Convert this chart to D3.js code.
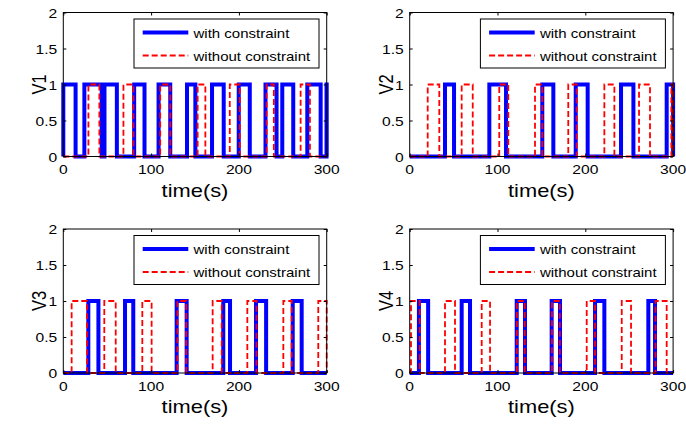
<!DOCTYPE html>
<html><head><meta charset="utf-8">
<script src="https://cdn.jsdelivr.net/npm/d3@7"></script>
<style>html,body{margin:0;padding:0;background:#fff;}svg{display:block;}</style>
</head><body>
<script>
const xTicks = [0, 100, 200, 300];
const yTicks = [0, 0.5, 1, 1.5, 2];
const xDomain = [0, 300];
const yDomain = [0, 2];
const panelNames = ["V1", "V2", "V3", "V4"];
const xLabel = "time(s)";
const legendLabels = ["with constraint", "without constraint"];
// pulses (start, end) in seconds where the signal is 1
const v1With = [[0,14],[24,43.8],[46.9,61],[80.7,92.5],[108.5,121.8],[140.9,150.4],[169.4,182.7],[199.8,212.4],[230.3,242.9],[249.4,261.9],[277.9,293.1],[299.8,300]];
const v1Without = [[28.6,41.1],[68.5,79.9],[110.4,121.8],[153,161.8],[189.6,201],[231.5,239.8],[270.3,280.9]];
const v2With = [[40.2,50.5],[90.7,109.7],[151,163.6],[189.1,202.7],[240.7,254.8],[292.7,300]];
const v2Without = [[20.5,33.7],[59.2,71.8],[102,112.3],[142.7,151],[180.6,190.1],[221.7,233.1],[261.2,273.7],[298,300]];
const v3With = [[28.5,40],[70.3,79.7],[129.1,140.5],[182.2,189.9],[219.5,231],[261.3,271.5]];
const v3Without = [[9.5,27],[46.7,59.7],[90,100.6],[130,140],[170.1,180.4],[209.6,220],[250.6,260.1],[290.4,300]];
const v4With = [[10.5,21],[59.2,68.7],[121.9,131.3],[161.7,171.2],[211.1,221.7],[271.8,279.4]];
const v4Without = [[1.5,11.5],[40.2,51.6],[82,91.5],[122,131],[162,171],[201.6,211.1],[241.5,252.1],[280,292.7]];

const withSeries = [v1With, v2With, v3With, v4With];
const withoutSeries = [v1Without, v2Without, v3Without, v4Without];

const W = 686, H = 424;
const FONT = "'Liberation Sans', Arial, Helvetica, sans-serif";
const panels = [
  {left: 63.3, top: 12.5, bottom: 156.5},
  {left: 409.7, top: 12.5, bottom: 156.5},
  {left: 63.3, top: 229, bottom: 373},
  {left: 409.7, top: 229, bottom: 373}
];
const plotW = 263.4;

const svg = d3.select("body").append("svg").attr("width", W).attr("height", H);

function stepPoints(pulses) {
  const pts = [[0, 0]];
  pulses.forEach(([a, b]) => { pts.push([a, 0], [a, 1], [b, 1], [b, 0]); });
  pts.push([300, 0]);
  return pts;
}

function stretchedText(g, x, y, str, size, anchor, sx, rotate) {
  return g.append("text")
    .attr("transform", `translate(${x},${y}) scale(${sx},1)` + (rotate ? ` rotate(${rotate})` : ""))
    .attr("font-family", FONT).attr("font-size", size).attr("text-anchor", anchor)
    .attr("fill", "#000").text(str);
}

panels.forEach((p, i) => {
  const x = d3.scaleLinear().domain(xDomain).range([p.left, p.left + plotW]);
  const y = d3.scaleLinear().domain(yDomain).range([p.bottom, p.top]);
  const g = svg.append("g");

  const line = d3.line().x(d => x(d[0])).y(d => y(d[1]));

  g.append("path").datum(stepPoints(withSeries[i]))
    .attr("d", line).attr("fill", "none").attr("stroke", "#0000ff")
    .attr("stroke-width", 4).attr("stroke-linejoin", "miter");
  g.append("path").datum(stepPoints(withoutSeries[i]))
    .attr("d", line).attr("fill", "none").attr("stroke", "#ff0000")
    .attr("stroke-width", 1.8).attr("stroke-dasharray", "6,3");

  // box
  g.append("rect").attr("x", x(0)).attr("y", y(2)).attr("width", x(300) - x(0)).attr("height", y(0) - y(2))
    .attr("fill", "none").attr("stroke", "#000").attr("stroke-width", 1);

  // axes with inward ticks
  const axB = d3.axisBottom(x).tickValues(xTicks).tickSize(-3).tickFormat("");
  const axT = d3.axisTop(x).tickValues(xTicks).tickSize(-3).tickFormat("");
  const axL = d3.axisLeft(y).tickValues(yTicks).tickSize(-3).tickFormat("");
  const axR = d3.axisRight(y).tickValues(yTicks).tickSize(-3).tickFormat("");
  [[axB, `translate(0,${y(0)})`], [axT, `translate(0,${y(2)})`], [axL, `translate(${x(0)},0)`], [axR, `translate(${x(300)},0)`]]
    .forEach(([ax, tr]) => {
      const a = g.append("g").attr("transform", tr).call(ax);
      a.select(".domain").remove();
      a.selectAll("line").attr("stroke", "#000");
    });

  // tick labels
  xTicks.forEach(v => stretchedText(g, x(v), y(0) + 17.5, String(v), 12.5, "middle", 1.25));
  yTicks.forEach(v => stretchedText(g, x(0) - 6, y(v) + 5.2, String(v), 12.5, "end", 1.25));

  // axis labels
  stretchedText(g, (x(0) + x(300)) / 2, y(0) + 40, xLabel, 17.5, "middle", 1.25);
  stretchedText(g, x(0) - 17, (y(0) + y(2)) / 2, panelNames[i], 16.5, "middle", 1.28, -90);

  // legend
  const lx = p.left + 70.7, ly = p.top + 6.5, lw = 185, lh = 49;
  g.append("rect").attr("x", lx).attr("y", ly).attr("width", lw).attr("height", lh)
    .attr("fill", "#fff").attr("stroke", "#000").attr("stroke-width", 1);
  g.append("line").attr("x1", lx + 8.7).attr("x2", lx + 54.3).attr("y1", ly + 13.5).attr("y2", ly + 13.5)
    .attr("stroke", "#0000ff").attr("stroke-width", 4);
  g.append("line").attr("x1", lx + 8.7).attr("x2", lx + 54.3).attr("y1", ly + 36.5).attr("y2", ly + 36.5)
    .attr("stroke", "#ff0000").attr("stroke-width", 1.8).attr("stroke-dasharray", "6,3");
  stretchedText(g, lx + 59.5, ly + 13.5 + 5, legendLabels[0], 12.5, "start", 1.2);
  stretchedText(g, lx + 59.5, ly + 36.5 + 5, legendLabels[1], 12.5, "start", 1.2);
});
</script>
</body></html>
